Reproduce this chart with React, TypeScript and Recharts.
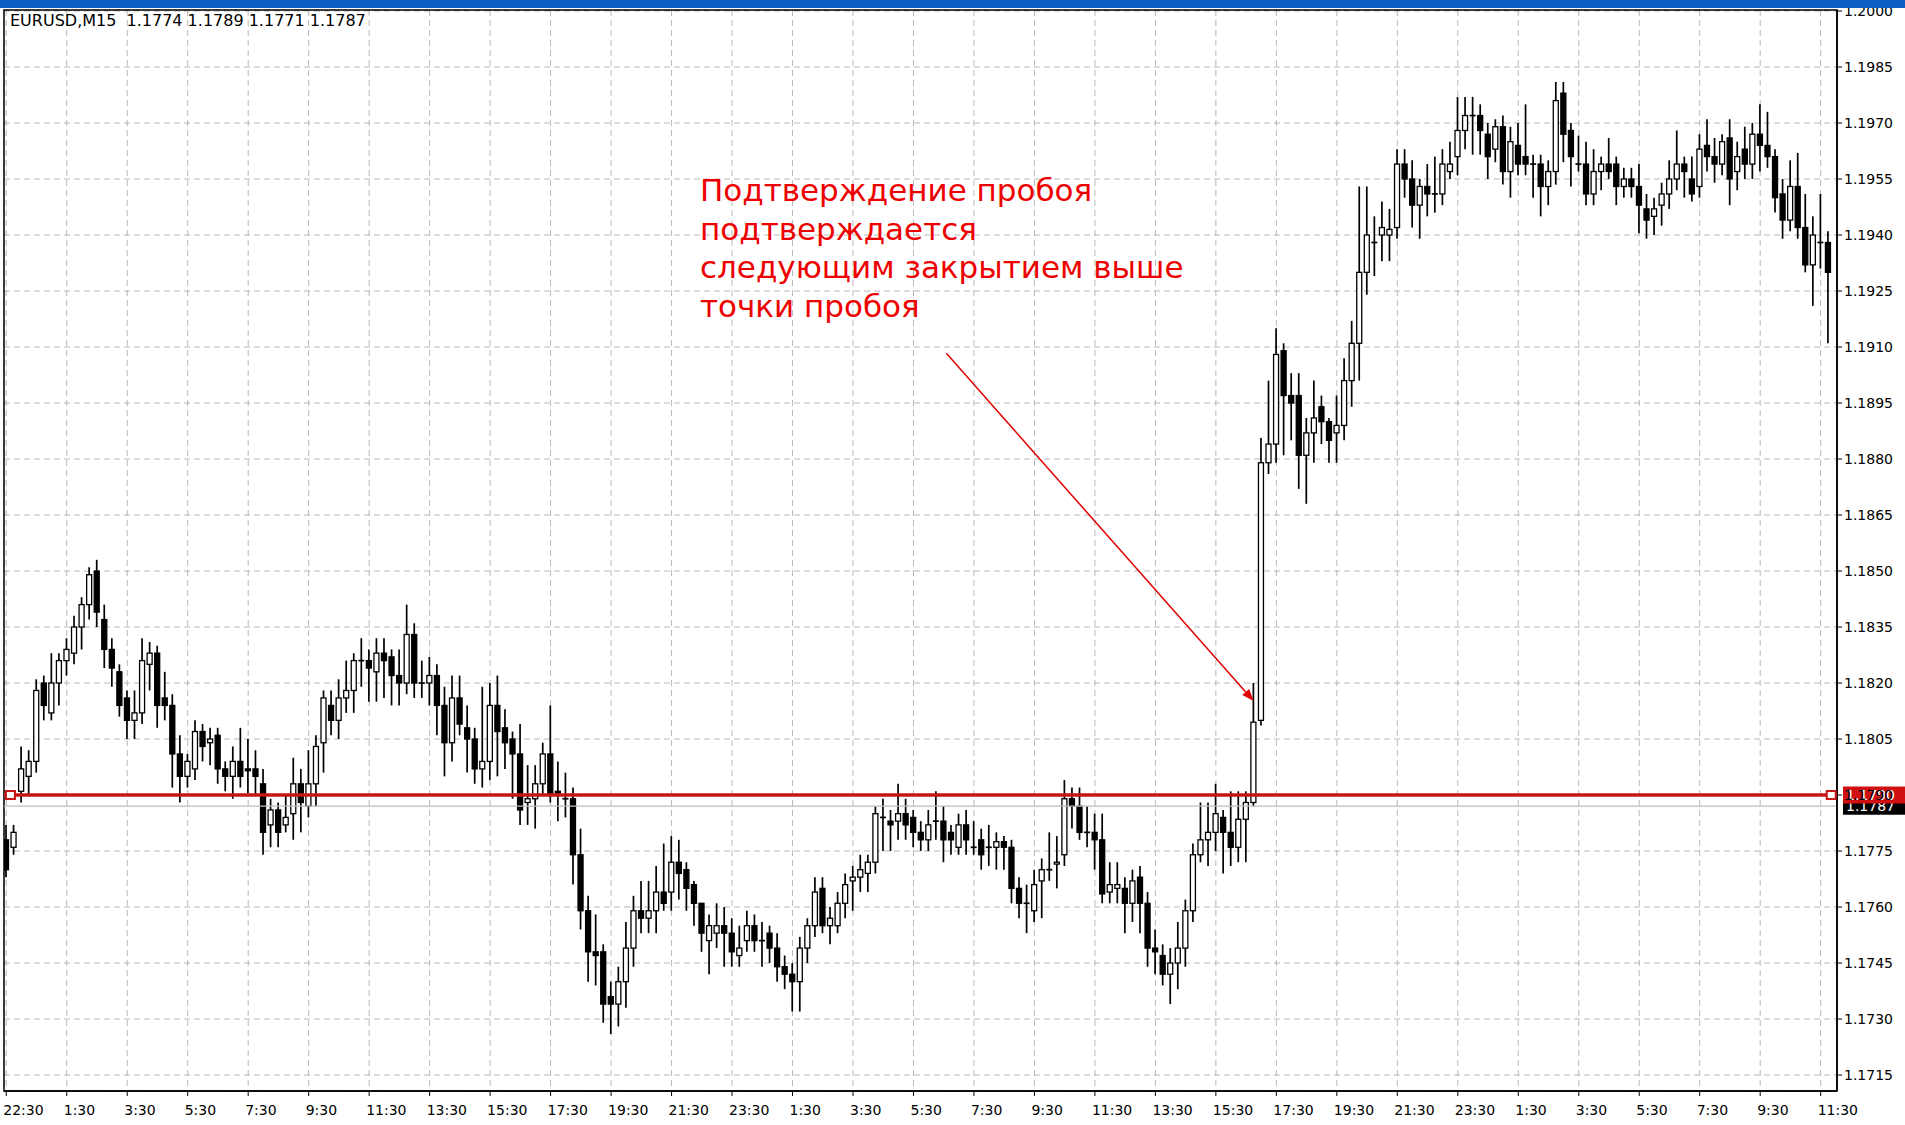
import React from 'react';
import { ComposedChart, Bar, XAxis, YAxis, CartesianGrid, ReferenceLine, ReferenceArea, ReferenceDot } from 'recharts';

// EURUSD M15 candles (one entry per bar, left to right)
const opens = [
  1.1778, 1.1776, 1.1791, 1.1795, 1.1799, 1.1820, 1.1812, 1.1820, 1.1826, 1.1828,
  1.1835, 1.1841, 1.1850, 1.1837, 1.1829, 1.1823, 1.1816, 1.1810, 1.1812, 1.1825,
  1.1828, 1.1816, 1.1814, 1.1801, 1.1795, 1.1797, 1.1807, 1.1804, 1.1806, 1.1797,
  1.1795, 1.1799, 1.1797, 1.1797, 1.1793, 1.1782, 1.1786, 1.1782, 1.1785, 1.1793,
  1.1787, 1.1793, 1.1804, 1.1814, 1.1810, 1.1816, 1.1818, 1.1826, 1.1826, 1.1823,
  1.1828, 1.1827, 1.1822, 1.1820, 1.1833, 1.1820, 1.1820, 1.1822, 1.1814, 1.1804,
  1.1816, 1.1808, 1.1805, 1.1797, 1.1799, 1.1814, 1.1808, 1.1805, 1.1801, 1.1788,
  1.1789, 1.1793, 1.1801, 1.1791, 1.1789, 1.1789, 1.1774, 1.1759, 1.1748, 1.1748,
  1.1736, 1.1734, 1.1740, 1.1749, 1.1759, 1.1757, 1.1759, 1.1764, 1.1764, 1.1772,
  1.1770, 1.1766, 1.1761, 1.1751, 1.1753, 1.1755, 1.1753, 1.1747, 1.1751, 1.1755,
  1.1751, 1.1753, 1.1749, 1.1744, 1.1742, 1.1740, 1.1749, 1.1755, 1.1765, 1.1755,
  1.1755, 1.1761, 1.1767, 1.1768, 1.1769, 1.1772, 1.1784, 1.1783, 1.1783, 1.1785,
  1.1784, 1.1780, 1.1778, 1.1783, 1.1783, 1.1780, 1.1776, 1.1782, 1.1776, 1.1778,
  1.1776, 1.1776, 1.17775, 1.1776, 1.1765, 1.1761, 1.1759, 1.1767, 1.1770, 1.17715,
  1.1774, 1.1789, 1.1787, 1.1780, 1.1780, 1.1778, 1.1764, 1.1765, 1.1765, 1.1761,
  1.1768, 1.1761, 1.1749, 1.1747, 1.1742, 1.1745, 1.1749, 1.1759, 1.1774, 1.1778,
  1.1780, 1.1784, 1.1780, 1.1776, 1.17835, 1.1788, 1.1810, 1.1879, 1.1884, 1.1909,
  1.1897, 1.1897, 1.1881, 1.1887, 1.1894, 1.1890, 1.1887, 1.1889, 1.1901, 1.1911,
  1.1930, 1.1938, 1.1940, 1.1940, 1.1942, 1.1959, 1.1955, 1.1948, 1.1953, 1.1951,
  1.1951, 1.1957, 1.1961, 1.1968, 1.1972, 1.1972, 1.1967, 1.1963, 1.1969, 1.1957,
  1.1964, 1.1961, 1.1959, 1.1959, 1.1953, 1.1957, 1.1978, 1.1968, 1.1959, 1.1959,
  1.1951, 1.1957, 1.1959, 1.1959, 1.1953, 1.1955, 1.1953, 1.1947, 1.1945, 1.1948,
  1.1951, 1.1955, 1.1959, 1.1955, 1.1953, 1.1964, 1.1961, 1.1959, 1.1966, 1.1957,
  1.1963, 1.1959, 1.1967, 1.1964, 1.1961, 1.1951, 1.1944, 1.1953, 1.1942, 1.1932,
  1.1938, 1.1938,
];

const highs = [
  1.1782, 1.1782, 1.1803, 1.1802, 1.1821, 1.1822, 1.1828, 1.1828, 1.1832, 1.1838,
  1.1843, 1.1851, 1.1853, 1.1841, 1.1832, 1.1825, 1.1818, 1.1818, 1.1832, 1.1831,
  1.1830, 1.1823, 1.1817, 1.1806, 1.1801, 1.1810, 1.1809, 1.1808, 1.1808, 1.1799,
  1.1803, 1.1808, 1.1805, 1.1802, 1.1797, 1.1789, 1.1788, 1.1790, 1.1800, 1.1797,
  1.1802, 1.1806, 1.1818, 1.1818, 1.1821, 1.1826, 1.1828, 1.1832, 1.1829, 1.1832,
  1.1832, 1.1829, 1.1829, 1.1841, 1.1836, 1.1826, 1.1827, 1.1825, 1.1819, 1.1822,
  1.1822, 1.1814, 1.1808, 1.1819, 1.1820, 1.1822, 1.1813, 1.1807, 1.1809, 1.1798,
  1.1798, 1.1804, 1.1814, 1.1799, 1.1796, 1.1792, 1.1781, 1.1763, 1.1758, 1.1750,
  1.1740, 1.1744, 1.1756, 1.1763, 1.1767, 1.1767, 1.1771, 1.1777, 1.1779, 1.1778,
  1.1772, 1.1767, 1.1761, 1.1758, 1.1761, 1.1760, 1.1757, 1.1755, 1.1759, 1.1758,
  1.1756, 1.1755, 1.1753, 1.1747, 1.1745, 1.1752, 1.1757, 1.1768, 1.1768, 1.1760,
  1.1764, 1.1769, 1.1771, 1.1774, 1.1774, 1.1787, 1.1789, 1.1786, 1.1793, 1.1789,
  1.1786, 1.1783, 1.1786, 1.1791, 1.1787, 1.1782, 1.1785, 1.1786, 1.1783, 1.1781,
  1.1782, 1.1780, 1.1779, 1.1778, 1.1768, 1.1766, 1.1770, 1.1773, 1.1780, 1.1779,
  1.1794, 1.1792, 1.1792, 1.1787, 1.1785, 1.1785, 1.1772, 1.1772, 1.1768, 1.1770,
  1.1771, 1.1764, 1.1754, 1.1750, 1.1749, 1.1756, 1.1762, 1.1777, 1.1788, 1.1788,
  1.1793, 1.1786, 1.1791, 1.1791, 1.1791, 1.1820, 1.18856, 1.1901, 1.1915, 1.1911,
  1.1903, 1.1903, 1.1891, 1.1901, 1.1897, 1.1891, 1.1897, 1.1907, 1.1917, 1.1953,
  1.1953, 1.1945, 1.1949, 1.1947, 1.1963, 1.1963, 1.1960, 1.1955, 1.1959, 1.1961,
  1.1963, 1.1965, 1.1977, 1.1977, 1.1977, 1.1975, 1.1970, 1.1971, 1.1972, 1.1969,
  1.1970, 1.1975, 1.19615, 1.19615, 1.1960, 1.1981, 1.1981, 1.1970, 1.19666, 1.1965,
  1.1963, 1.1961, 1.1966, 1.1961, 1.1958, 1.1958, 1.1959, 1.1951, 1.1950, 1.1954,
  1.1960, 1.1968, 1.1961, 1.1961, 1.1967, 1.1971, 1.1966, 1.1967, 1.1971, 1.1965,
  1.1969, 1.1970, 1.1975, 1.1973, 1.1963, 1.1955, 1.1960, 1.1962, 1.1951, 1.1945,
  1.1951, 1.1941,
];

const lows = [
  1.1768, 1.1774, 1.1788, 1.1790, 1.1796, 1.1810, 1.1810, 1.1814, 1.1822, 1.1825,
  1.1829, 1.1837, 1.1835, 1.1824, 1.1819, 1.1811, 1.1805, 1.1805, 1.1809, 1.1818,
  1.1808, 1.1810, 1.1792, 1.1788, 1.1792, 1.1794, 1.1799, 1.1798, 1.1793, 1.1791,
  1.1789, 1.1792, 1.17905, 1.1790, 1.1774, 1.1776, 1.1776, 1.1780, 1.1778, 1.1780,
  1.1784, 1.1787, 1.1796, 1.1806, 1.1805, 1.1812, 1.1812, 1.1819, 1.1815, 1.1815,
  1.1816, 1.1814, 1.1814, 1.1817, 1.1816, 1.1816, 1.1814, 1.1806, 1.1795, 1.1799,
  1.1806, 1.1796, 1.1793, 1.1792, 1.1794, 1.1795, 1.1797, 1.1789, 1.1782, 1.1782,
  1.1781, 1.1790, 1.1788, 1.1783, 1.1784, 1.1766, 1.1754, 1.1740, 1.1739, 1.1729,
  1.1726, 1.1728, 1.1733, 1.1744, 1.1753, 1.1753, 1.1753, 1.1759, 1.1759, 1.1762,
  1.1759, 1.1755, 1.1748, 1.1742, 1.1749, 1.1744, 1.1744, 1.1744, 1.1748, 1.1748,
  1.1744, 1.1745, 1.1740, 1.1738, 1.1732, 1.1732, 1.1745, 1.1752, 1.1753, 1.1750,
  1.1753, 1.1757, 1.1759, 1.1764, 1.1764, 1.1769, 1.1775, 1.1775, 1.1778, 1.1778,
  1.1776, 1.1775, 1.1775, 1.1778, 1.1772, 1.1774, 1.1774, 1.1774, 1.1774, 1.1770,
  1.1771, 1.1770, 1.1770, 1.1761, 1.1757, 1.1753, 1.1756, 1.1757, 1.1767, 1.1765,
  1.1771, 1.1781, 1.1778, 1.1776, 1.1770, 1.1761, 1.1761, 1.1761, 1.1753, 1.1756,
  1.1753, 1.1744, 1.1742, 1.1739, 1.1734, 1.1738, 1.1744, 1.1756, 1.1772, 1.1771,
  1.1775, 1.1769, 1.1771, 1.1772, 1.1772, 1.1787, 1.18086, 1.1876, 1.1879, 1.1881,
  1.1885, 1.1872, 1.1868, 1.1879, 1.1884, 1.1879, 1.1879, 1.1885, 1.1894, 1.1901,
  1.1924, 1.1929, 1.1933, 1.1933, 1.1939, 1.1950, 1.1942, 1.1939, 1.1945, 1.1946,
  1.1948, 1.1955, 1.1956, 1.1963, 1.19615, 1.19615, 1.1955, 1.19595, 1.19535, 1.1950,
  1.1956, 1.1956, 1.1950, 1.1945, 1.1948, 1.19535, 1.19595, 1.1953, 1.1957, 1.1948,
  1.1948, 1.1952, 1.1955, 1.1948, 1.1950, 1.1950, 1.19405, 1.1939, 1.1940, 1.19425,
  1.1947, 1.1952, 1.1950, 1.1949, 1.1950, 1.1957, 1.1954, 1.1956, 1.1948, 1.1952,
  1.1955, 1.1955, 1.1957, 1.1958, 1.1946, 1.1939, 1.1941, 1.1939, 1.1930, 1.1921,
  1.1931, 1.1911,
];

const closes = [
  1.1770, 1.1780, 1.1797, 1.1799, 1.1818, 1.1814, 1.1820, 1.1826, 1.1829, 1.1835,
  1.1841, 1.1849, 1.1839, 1.1829, 1.1824, 1.1814, 1.1810, 1.1812, 1.1826, 1.1828,
  1.1814, 1.1814, 1.1801, 1.1795, 1.1799, 1.1807, 1.1803, 1.1805, 1.1797, 1.1795,
  1.1799, 1.1795, 1.17965, 1.1795, 1.1780, 1.1786, 1.1780, 1.1784, 1.1793, 1.1788,
  1.1793, 1.1803, 1.1816, 1.1810, 1.1816, 1.1818, 1.1826, 1.1826, 1.1824, 1.1828,
  1.1826, 1.1822, 1.1820, 1.1833, 1.1820, 1.1820, 1.1822, 1.1814, 1.1804, 1.1816,
  1.1809, 1.1805, 1.1797, 1.1799, 1.1814, 1.1807, 1.1804, 1.1801, 1.1786, 1.1789,
  1.1793, 1.1801, 1.1790, 1.17905, 1.1789, 1.1774, 1.1759, 1.1748, 1.1747, 1.1734,
  1.1734, 1.1740, 1.1749, 1.1759, 1.1757, 1.1759, 1.1764, 1.1761, 1.1772, 1.1769,
  1.1765, 1.1761, 1.1753, 1.1755, 1.1755, 1.1753, 1.1748, 1.1749, 1.1755, 1.1751,
  1.1751, 1.1749, 1.1744, 1.1742, 1.1740, 1.1749, 1.1755, 1.1764, 1.1755, 1.1757,
  1.1761, 1.1766, 1.1768, 1.1770, 1.1772, 1.1785, 1.1784, 1.1782, 1.1785, 1.1782,
  1.1780, 1.1778, 1.1782, 1.1783, 1.1778, 1.1778, 1.1782, 1.1778, 1.1776, 1.1774,
  1.1776, 1.17775, 1.1776, 1.1765, 1.1761, 1.1761, 1.1766, 1.1770, 1.1770, 1.1772,
  1.1789, 1.1787, 1.1780, 1.1780, 1.1778, 1.17635, 1.1766, 1.1766, 1.1761, 1.1767,
  1.1761, 1.1749, 1.1748, 1.1742, 1.1745, 1.1749, 1.1759, 1.1774, 1.1778, 1.1780,
  1.1785, 1.1780, 1.1776, 1.17835, 1.1788, 1.18095, 1.1879, 1.1884, 1.1908, 1.1897,
  1.1895, 1.1881, 1.1887, 1.1891, 1.1890, 1.1885, 1.1889, 1.1901, 1.1911, 1.1930,
  1.1940, 1.1938, 1.1942, 1.19415, 1.1959, 1.1955, 1.1948, 1.1953, 1.1951, 1.1951,
  1.1959, 1.1959, 1.1968, 1.1972, 1.1972, 1.1968, 1.1961, 1.1969, 1.1957, 1.1965,
  1.1959, 1.1959, 1.1959, 1.1953, 1.1957, 1.1976, 1.1967, 1.1961, 1.1959, 1.1951,
  1.1957, 1.1959, 1.1957, 1.1953, 1.1955, 1.1953, 1.1948, 1.1944, 1.1947, 1.1951,
  1.1955, 1.1959, 1.1957, 1.1951, 1.1963, 1.1961, 1.1959, 1.1965, 1.1955, 1.1961,
  1.1959, 1.1967, 1.1964, 1.1961, 1.1950, 1.1944, 1.1953, 1.1942, 1.1932, 1.1940,
  1.1938, 1.1930,
];

// one label every 8 bars (2 hours)
const timeLabels = [
  '22:30', '1:30', '3:30', '5:30', '7:30', '9:30', '11:30', '13:30', '15:30', '17:30', '19:30',
  '21:30', '23:30', '1:30', '3:30', '5:30', '7:30', '9:30', '11:30', '13:30', '15:30', '17:30',
  '19:30', '21:30', '23:30', '1:30', '3:30', '5:30', '7:30', '9:30', '11:30',
];
const barsPerLabel = 8;

const priceTicks = [
  1.1715, 1.173, 1.1745, 1.176, 1.1775, 1.179, 1.1805, 1.182, 1.1835, 1.185,
  1.1865, 1.188, 1.1895, 1.191, 1.1925, 1.194, 1.1955, 1.197, 1.1985, 1.2,
];

const breakLevel = 1.179;
const bidPrice = 1.1787;
const headerText = 'EURUSD,M15  1.1774 1.1789 1.1771 1.1787';
const noteLines = ['Подтверждение пробоя', 'подтверждается', 'следующим закрытием выше', 'точки пробоя'];

// bar index / price of the annotation arrow and the line end markers
const arrowFrom = { x: 124.35, y: 1.19083 };
const arrowTo = { x: 165.0, y: 1.18152 };
const lineEnds = [0.55, 241.4];

const X_DOMAIN: [number, number] = [-0.3, 242.16];
const Y_DOMAIN: [number, number] = [1.171072, 1.200027];

const candles = opens.map((o, i) => ({
  i,
  o,
  h: highs[i],
  l: lows[i],
  c: closes[i],
  range: [lows[i], highs[i]],
}));
const xTicks = timeLabels.map((_, k) => k * barsPerLabel);

const AXIS_FONT = '"DejaVu Sans", Verdana, sans-serif';

function Candle(props: any) {
  const { x, y, width, height, payload } = props;
  if (!payload || x == null) return null;
  const cx = x + width / 2;
  const top = Math.min(y, y + height);
  const h = Math.abs(height);
  const span = payload.h - payload.l;
  const k = span > 0 ? h / span : 0;
  const py = (v: number) => top + (payload.h - v) * k;
  const yo = py(payload.o);
  const yc = py(payload.c);
  const bull = payload.c > payload.o;
  const bodyTop = Math.min(yo, yc);
  const bodyH = Math.abs(yc - yo);
  return (
    <g>
      <line x1={cx} x2={cx} y1={top} y2={top + h} stroke="#000" strokeWidth={1.7} />
      {bodyH < 1.2 ? (
        <line x1={cx - 3} x2={cx + 3} y1={yo} y2={yo} stroke="#000" strokeWidth={1.7} />
      ) : (
        <rect
          x={cx - 2.5}
          y={bodyTop}
          width={5}
          height={bodyH}
          fill={bull ? '#fff' : '#000'}
          stroke="#000"
          strokeWidth={1.3}
        />
      )}
    </g>
  );
}

function PriceTick(props: any) {
  const { x, y, payload } = props;
  return (
    <g>
      <line x1={x} x2={x + 5} y1={y} y2={y} stroke="#000" strokeWidth={1} />
      <text x={x + 7} y={y} dy="0.36em" fontSize={14} fontFamily={AXIS_FONT} fill="#000">
        {Number(payload.value).toFixed(4)}
      </text>
    </g>
  );
}

function TimeTick(props: any) {
  const { x, y, payload } = props;
  const label = timeLabels[Math.round(payload.value / barsPerLabel)];
  return (
    <g>
      <line x1={x} x2={x} y1={y} y2={y + 5} stroke="#000" strokeWidth={1} />
      <text x={x - 3} y={y + 24} textAnchor="start" fontSize={14} fontFamily={AXIS_FONT} fill="#000">
        {label}
      </text>
    </g>
  );
}

function tagLabel(text: string, bg: string, height: number) {
  return (p: any) => {
    const vb = p.viewBox || {};
    const x = vb.x + vb.width + 6;
    const y = vb.y;
    return (
      <g>
        <rect x={x} y={y - height / 2} width={70} height={height} fill={bg} />
        <text x={x + 3} y={y} dy="0.36em" fontSize={14} fontFamily={AXIS_FONT} fill="#fff">
          {text}
        </text>
      </g>
    );
  };
}

function Arrow(props: any) {
  const { x1, y1, x2, y2 } = props;
  if (x1 == null) return null;
  const ang = Math.atan2(y2 - y1, x2 - x1);
  const len = 12;
  const wing = 4.5;
  const bx = x2 - len * Math.cos(ang);
  const by = y2 - len * Math.sin(ang);
  const px = -Math.sin(ang) * wing;
  const pyy = Math.cos(ang) * wing;
  return (
    <g>
      <line x1={x1} y1={y1} x2={bx} y2={by} stroke="#e00000" strokeWidth={1.5} />
      <polygon points={`${x2},${y2} ${bx + px},${by + pyy} ${bx - px},${by - pyy}`} fill="#e00000" />
    </g>
  );
}

function EndSquare(props: any) {
  const { cx, cy } = props;
  if (cx == null) return null;
  return <rect x={cx - 4.5} y={cy - 4} width={9} height={8} fill="#fff" stroke="#c81414" strokeWidth={2} />;
}

export default function App() {
  return (
    <div style={{ position: 'absolute', left: 0, top: 0, width: 1905, height: 1125, background: '#fff', overflow: 'hidden' }}>
      <ComposedChart width={1905} height={1125} data={candles} margin={{ top: 10, right: 0, bottom: 0, left: 4 }}>
        <CartesianGrid stroke="#b8b8b8" strokeDasharray="6 4" strokeWidth={1} />
        <XAxis
          type="number"
          dataKey="i"
          domain={X_DOMAIN}
          ticks={xTicks}
          allowDataOverflow
          interval={0}
          height={34}
          tickSize={0}
          tickMargin={0}
          tickLine={false}
          axisLine={{ stroke: '#000', strokeWidth: 1.5 }}
          tick={<TimeTick />}
        />
        <YAxis
          orientation="right"
          type="number"
          domain={Y_DOMAIN}
          ticks={priceTicks}
          allowDataOverflow
          interval={0}
          width={68}
          tickSize={0}
          tickMargin={0}
          tickLine={false}
          axisLine={{ stroke: '#000', strokeWidth: 1.5 }}
          tick={<PriceTick />}
        />
        <ReferenceArea
          x1={X_DOMAIN[0]}
          x2={X_DOMAIN[1]}
          y1={Y_DOMAIN[0]}
          y2={Y_DOMAIN[1]}
          fill="none"
          stroke="#000"
          strokeWidth={1.5}
          fillOpacity={0}
        />
        <ReferenceLine y={bidPrice} stroke="#bcbcbc" strokeWidth={1.3} label={tagLabel(bidPrice.toFixed(4), '#000', 17)} />
        <Bar dataKey="range" barSize={5} isAnimationActive={false} shape={<Candle />} />
        <ReferenceLine y={breakLevel} stroke="#c81414" strokeWidth={3.5} label={tagLabel(breakLevel.toFixed(4), '#d01010', 17)} />
        {lineEnds.map((e) => (
          <ReferenceDot key={e} x={e} y={breakLevel} shape={<EndSquare />} />
        ))}
        <ReferenceLine segment={[arrowFrom, arrowTo]} shape={<Arrow />} />
      </ComposedChart>

      <div
        style={{
          position: 'absolute',
          left: 10,
          top: 12,
          fontFamily: AXIS_FONT,
          fontSize: 16,
          lineHeight: '18px',
          color: '#000',
          whiteSpace: 'pre',
        }}
      >
        {headerText}
      </div>

      <div
        style={{
          position: 'absolute',
          left: 700,
          top: 171,
          fontFamily: AXIS_FONT,
          fontSize: 31,
          lineHeight: '38.5px',
          color: '#ee0000',
          whiteSpace: 'pre',
        }}
      >
        {noteLines.map((t) => (
          <div key={t}>{t}</div>
        ))}
      </div>

      <div style={{ position: 'absolute', left: 0, top: 0, width: 1905, height: 8, background: '#0c5ec2' }} />
    </div>
  );
}
